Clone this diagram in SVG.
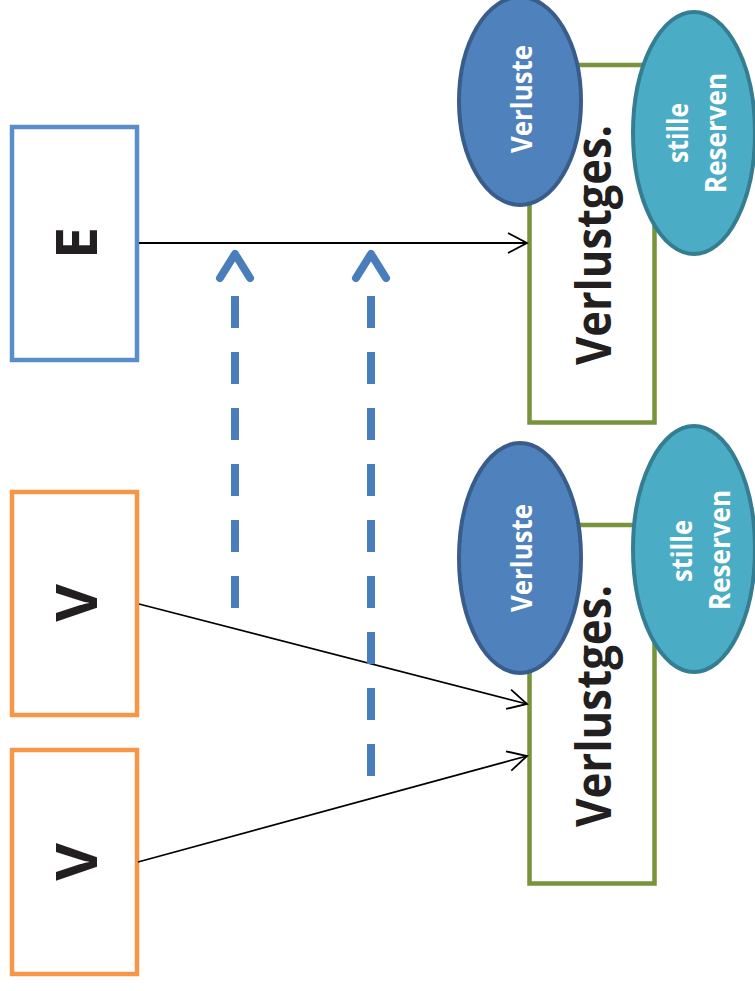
<svg xmlns="http://www.w3.org/2000/svg" width="755" height="991" viewBox="0 0 755 991">
  <defs>
    <marker id="open-arrow" markerUnits="userSpaceOnUse" markerWidth="24" markerHeight="24" viewBox="-22 -12 24 24" refX="0" refY="0" orient="auto">
      <path d="M-19,-10 L0,0 L-19,10" fill="none" stroke="#000" stroke-width="1.8"/>
    </marker>
    <style>
      .box { fill: #fff; stroke-width: 4.5; }
      .box-e { stroke: #5a8ecb; }
      .box-v { stroke: #f79646; }
      .acct { fill: #fff; stroke: #77933c; stroke-width: 4.5; }
      .loss { fill: #4f81bd; stroke: #385d8a; stroke-width: 4; }
      .res { fill: #4bacc6; stroke: #357d91; stroke-width: 4; }
      .big { font-family: "Open Sans", "Liberation Sans", sans-serif; font-weight: bold; fill: #231f20; text-anchor: middle; }
      .small { font-family: "Open Sans", "Liberation Sans", sans-serif; font-weight: bold; fill: #fff; text-anchor: middle; font-size: 29px; }
      .flow { fill: none; stroke: #000; stroke-width: 1.8; marker-end: url(#open-arrow); }
      .dash { fill: none; stroke: #4a7ebb; stroke-width: 8; stroke-dasharray: 32 24; }
      .dash-head { fill: none; stroke: #4a7ebb; stroke-width: 8; stroke-linecap: round; stroke-linejoin: round; }
    </style>
  </defs>
  <rect width="755" height="991" fill="#fff"/>

  <!-- source boxes -->
  <g id="node-e">
    <rect class="box box-e" x="12" y="127" width="125" height="233"/>
    <text class="big" font-size="58" transform="translate(97,243) rotate(-90)">E</text>
  </g>
  <g id="node-v1">
    <rect class="box box-v" x="12" y="492" width="125" height="223"/>
    <text class="big" font-size="58" transform="translate(97,603) rotate(-90)">V</text>
  </g>
  <g id="node-v2">
    <rect class="box box-v" x="12" y="750" width="125" height="224"/>
    <text class="big" font-size="58" transform="translate(97,862) rotate(-90)">V</text>
  </g>

  <!-- upper loss company -->
  <g id="node-verlustges-1">
    <rect class="acct" x="529.5" y="65" width="125" height="357.5"/>
    <text class="big" font-size="48" textLength="240" lengthAdjust="spacingAndGlyphs" transform="translate(611,245) rotate(-90)">Verlustges.</text>
  </g>
  <g id="node-verluste-1">
    <ellipse class="loss" cx="520" cy="101" rx="61" ry="104"/>
    <text class="small" textLength="108" lengthAdjust="spacingAndGlyphs" transform="translate(532,99) rotate(-90)">Verluste</text>
  </g>
  <g id="node-reserven-1">
    <ellipse class="res" cx="694" cy="133" rx="61" ry="121"/>
    <text class="small" textLength="60" lengthAdjust="spacingAndGlyphs" transform="translate(688,133) rotate(-90)">stille</text>
    <text class="small" textLength="120" lengthAdjust="spacingAndGlyphs" transform="translate(726,133) rotate(-90)">Reserven</text>
  </g>

  <!-- lower loss company -->
  <g id="node-verlustges-2">
    <rect class="acct" x="529.5" y="525" width="125" height="358.5"/>
    <text class="big" font-size="48" textLength="242" lengthAdjust="spacingAndGlyphs" transform="translate(611,706) rotate(-90)">Verlustges.</text>
  </g>
  <g id="node-verluste-2">
    <ellipse class="loss" cx="520" cy="558" rx="61" ry="115"/>
    <text class="small" textLength="108" lengthAdjust="spacingAndGlyphs" transform="translate(532,558) rotate(-90)">Verluste</text>
  </g>
  <g id="node-reserven-2">
    <ellipse class="res" cx="694" cy="549" rx="61" ry="123"/>
    <text class="small" textLength="62" lengthAdjust="spacingAndGlyphs" transform="translate(692,551) rotate(-90)">stille</text>
    <text class="small" textLength="120" lengthAdjust="spacingAndGlyphs" transform="translate(730,550) rotate(-90)">Reserven</text>
  </g>

  <!-- connectors -->
  <g id="connectors">
    <line class="flow" x1="139" y1="243" x2="527" y2="243"/>
    <line class="flow" x1="139" y1="604" x2="527" y2="704"/>
    <line class="flow" x1="138" y1="862" x2="527" y2="756"/>
    <line class="dash" x1="235" y1="296" x2="235" y2="608"/>
    <path class="dash-head" d="M220,278 L235,254 L250,278"/>
    <line class="dash" x1="371" y1="296" x2="371" y2="777"/>
    <path class="dash-head" d="M356,278 L371,254 L386,278"/>
  </g>
</svg>
